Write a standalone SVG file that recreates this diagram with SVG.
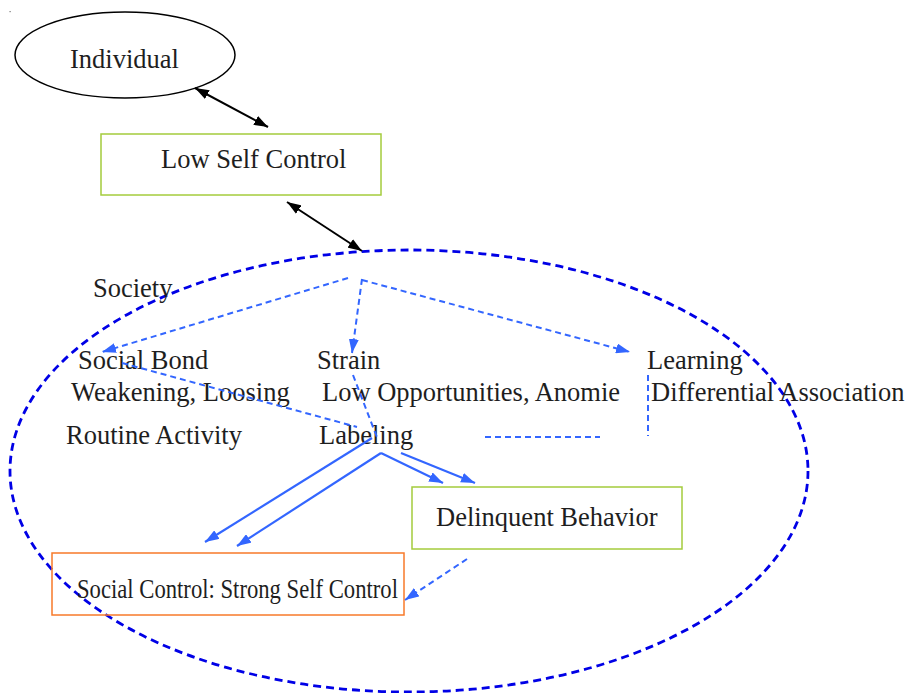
<svg xmlns="http://www.w3.org/2000/svg" width="909" height="693" viewBox="0 0 909 693">
  <style>
    .lbl { font-family: "Liberation Serif", "Times New Roman", serif; font-size: 26.5px; fill: #1e1e1e; }
    .box-green { fill: none; stroke: #a4cc3c; stroke-width: 1.5; }
    .box-orange { fill: none; stroke: #f77a2a; stroke-width: 1.5; }
    .link-black { stroke: #000; stroke-width: 2; fill: none; }
    .link-blue { stroke: #3366ff; stroke-width: 2.2; fill: none; }
    .link-blue-dash { stroke: #3366ff; stroke-width: 2; fill: none; stroke-dasharray: 6 4; }
  </style>
  <defs>
    <marker id="ah-black" viewBox="0 0 14 10" refX="14" refY="5" markerWidth="14" markerHeight="10" markerUnits="userSpaceOnUse" orient="auto-start-reverse">
      <path d="M0,0 L14,5 L0,10 z" fill="#000"/>
    </marker>
    <marker id="ah-blue" viewBox="0 0 14 10" refX="14" refY="5" markerWidth="14" markerHeight="10" markerUnits="userSpaceOnUse" orient="auto">
      <path d="M0,0 L14,5 L0,10 z" fill="#3366ff"/>
    </marker>
  </defs>

  <rect width="909" height="693" fill="#ffffff"/>
  <rect x="9.5" y="11" width="1.2" height="1.2" fill="#777"/>

  <!-- society boundary -->
  <g id="society">
    <ellipse cx="409" cy="471" rx="399" ry="221" fill="none" stroke="#0000e6" stroke-width="2.8" stroke-dasharray="8 5"/>
    <text class="lbl" x="93" y="297">Society</text>
  </g>

  <g id="individual">
    <ellipse cx="125" cy="55" rx="110" ry="43" fill="none" stroke="#000" stroke-width="1.5"/>
    <text class="lbl" x="70" y="68">Individual</text>
  </g>

  <g id="low-self-control">
    <rect class="box-green" x="101" y="134" width="280" height="61"/>
    <text class="lbl" x="161" y="168">Low Self Control</text>
  </g>

  <g id="social-bond">
    <text class="lbl" x="78" y="369">Social Bond</text>
    <text class="lbl" x="71" y="401">Weakening, Loosing</text>
  </g>

  <g id="strain">
    <text class="lbl" x="317" y="369">Strain</text>
    <text class="lbl" x="322" y="401">Low Opportunities, Anomie</text>
  </g>

  <g id="learning">
    <text class="lbl" x="647" y="369">Learning</text>
    <text class="lbl" x="651" y="401">Differential Association</text>
  </g>

  <g id="routine-activity">
    <text class="lbl" x="66" y="444">Routine Activity</text>
  </g>

  <g id="labeling">
    <text class="lbl" x="319" y="444">Labeling</text>
  </g>

  <g id="delinquent-behavior">
    <rect class="box-green" x="412" y="487" width="270" height="62"/>
    <text class="lbl" x="436" y="526">Delinquent Behavior</text>
  </g>

  <g id="social-control">
    <rect class="box-orange" x="52" y="553" width="352" height="62"/>
    <text class="lbl" x="77" y="598" font-size="24" textLength="321" lengthAdjust="spacingAndGlyphs">Social Control: Strong Self Control</text>
  </g>

  <g id="connectors">
    <!-- individual / self control / society links -->
    <line class="link-black" x1="195" y1="88" x2="268" y2="127" marker-start="url(#ah-black)" marker-end="url(#ah-black)"/>
    <line class="link-black" x1="287" y1="202" x2="362" y2="251" marker-start="url(#ah-black)" marker-end="url(#ah-black)"/>

    <!-- society branches -->
    <line class="link-blue-dash" x1="348" y1="278" x2="102" y2="352" marker-end="url(#ah-blue)"/>
    <line class="link-blue-dash" x1="362" y1="279" x2="352" y2="353" marker-end="url(#ah-blue)"/>
    <line class="link-blue-dash" x1="362" y1="280" x2="630" y2="352" marker-end="url(#ah-blue)"/>

    <!-- theory cross links -->
    <line class="link-blue-dash" x1="122" y1="363" x2="357" y2="427"/>
    <line class="link-blue-dash" x1="353" y1="375" x2="378" y2="440"/>
    <line class="link-blue-dash" x1="485" y1="437" x2="600" y2="437"/>
    <line class="link-blue-dash" x1="648" y1="375" x2="648" y2="436"/>

    <!-- labeling outcomes -->
    <line class="link-blue" x1="372" y1="438" x2="205" y2="542" marker-end="url(#ah-blue)"/>
    <line class="link-blue" x1="381" y1="453" x2="237" y2="546" marker-end="url(#ah-blue)"/>
    <line class="link-blue" x1="381" y1="453" x2="443" y2="483" marker-end="url(#ah-blue)"/>
    <line class="link-blue" x1="401" y1="453" x2="475" y2="483" marker-end="url(#ah-blue)"/>

    <!-- feedback to social control -->
    <line class="link-blue-dash" x1="467" y1="559" x2="405" y2="600" marker-end="url(#ah-blue)"/>
  </g>
</svg>
